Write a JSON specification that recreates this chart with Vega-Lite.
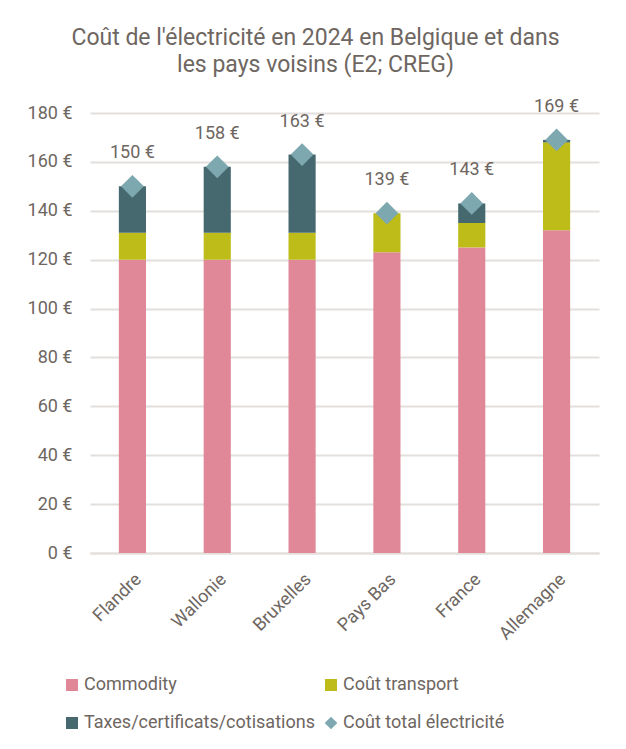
{
  "$schema": "https://vega.github.io/schema/vega-lite/v6.json",
  "autosize": "none",
  "width": 509,
  "height": 440,
  "padding": {"left": 90, "top": 113, "right": 27, "bottom": 196},
  "background": "white",
  "config": {
    "font": "Roboto",
    "view": {"stroke": null},
    "axis": {"labelColor": "#6e6661", "labelFont": "Roboto", "labelFontSize": 18, "titleColor": "#6e6661"},
    "legend": {"labelColor": "#6e6661", "labelFont": "Roboto", "labelFontSize": 18}
  },
  "title": {
    "text": ["Coût de l'électricité en 2024 en Belgique et dans", "les pays voisins (E2; CREG)"],
    "fontSize": 23,
    "font": "Roboto",
    "fontWeight": "normal",
    "color": "#6e6661",
    "anchor": "middle",
    "dx": -29,
    "offset": 21,
    "lineHeight": 27
  },
  "datasets": {
    "composantes": [
      {"pays": "Flandre", "composante": "Commodity", "valeur": 120},
      {"pays": "Flandre", "composante": "Coût transport", "valeur": 11},
      {"pays": "Flandre", "composante": "Taxes/certificats/cotisations", "valeur": 19},
      {"pays": "Wallonie", "composante": "Commodity", "valeur": 120},
      {"pays": "Wallonie", "composante": "Coût transport", "valeur": 11},
      {"pays": "Wallonie", "composante": "Taxes/certificats/cotisations", "valeur": 27},
      {"pays": "Bruxelles", "composante": "Commodity", "valeur": 120},
      {"pays": "Bruxelles", "composante": "Coût transport", "valeur": 11},
      {"pays": "Bruxelles", "composante": "Taxes/certificats/cotisations", "valeur": 32},
      {"pays": "Pays Bas", "composante": "Commodity", "valeur": 123},
      {"pays": "Pays Bas", "composante": "Coût transport", "valeur": 16},
      {"pays": "Pays Bas", "composante": "Taxes/certificats/cotisations", "valeur": 0},
      {"pays": "France", "composante": "Commodity", "valeur": 125},
      {"pays": "France", "composante": "Coût transport", "valeur": 10},
      {"pays": "France", "composante": "Taxes/certificats/cotisations", "valeur": 8},
      {"pays": "Allemagne", "composante": "Commodity", "valeur": 132},
      {"pays": "Allemagne", "composante": "Coût transport", "valeur": 36},
      {"pays": "Allemagne", "composante": "Taxes/certificats/cotisations", "valeur": 1}
    ],
    "totaux": [
      {"pays": "Flandre", "total": 150, "libelle": "150 €"},
      {"pays": "Wallonie", "total": 158, "libelle": "158 €"},
      {"pays": "Bruxelles", "total": 163, "libelle": "163 €"},
      {"pays": "Pays Bas", "total": 139, "libelle": "139 €"},
      {"pays": "France", "total": 143, "libelle": "143 €"},
      {"pays": "Allemagne", "total": 169, "libelle": "169 €"}
    ]
  },
  "encoding": {
    "x": {
      "field": "pays",
      "type": "nominal",
      "sort": ["Flandre", "Wallonie", "Bruxelles", "Pays Bas", "France", "Allemagne"],
      "scale": {"paddingInner": 0.68, "paddingOuter": 0.34},
      "axis": {
        "title": null,
        "labelAngle": -45,
        "ticks": false,
        "domainColor": "#e3dfdc",
        "domainWidth": 2,
        "labelPadding": 17
      }
    }
  },
  "layer": [
    {
      "data": {"name": "composantes"},
      "mark": {"type": "bar"},
      "encoding": {
        "y": {
          "field": "valeur",
          "type": "quantitative",
          "stack": "zero",
          "scale": {"domain": [0, 180]},
          "axis": {
            "title": null,
            "values": [0, 20, 40, 60, 80, 100, 120, 140, 160, 180],
            "labelExpr": "datum.value + ' €'",
            "ticks": false,
            "domain": false,
            "labelPadding": 18,
            "gridColor": "#e3dfdc",
            "gridWidth": 2
          }
        },
        "color": {
          "field": "composante",
          "type": "nominal",
          "scale": {
            "domain": ["Commodity", "Coût transport", "Taxes/certificats/cotisations", "Coût total électricité"],
            "range": ["#e08898", "#bdbc18", "#46696f", "#7ea8b0"]
          },
          "legend": {
            "title": null,
            "orient": "none",
            "legendX": -27,
            "legendY": 563,
            "direction": "horizontal",
            "columns": 2,
            "columnPadding": 7,
            "rowPadding": 20,
            "symbolType": "square",
            "symbolSize": 144,
            "symbolStrokeWidth": 0,
            "labelOffset": 3,
            "labelLimit": 400,
            "encode": {
              "symbols": {
                "update": {
                  "shape": {"signal": "datum.label === 'Coût total électricité' ? 'diamond' : 'square'"},
                  "size": {"signal": "datum.label === 'Coût total électricité' ? 160 : 144"}
                }
              }
            }
          }
        },
        "order": {"field": "composante", "sort": "ascending"}
      }
    },
    {
      "data": {"name": "totaux"},
      "mark": {"type": "point", "shape": "diamond", "filled": true, "size": 520, "color": "#7ea8b0", "opacity": 1},
      "encoding": {
        "y": {"field": "total", "type": "quantitative"}
      }
    },
    {
      "data": {"name": "totaux"},
      "mark": {"type": "text", "dy": -33, "fontSize": 18, "color": "#6e6661", "font": "Roboto"},
      "encoding": {
        "y": {"field": "total", "type": "quantitative"},
        "text": {"field": "libelle", "type": "nominal"}
      }
    }
  ]
}
